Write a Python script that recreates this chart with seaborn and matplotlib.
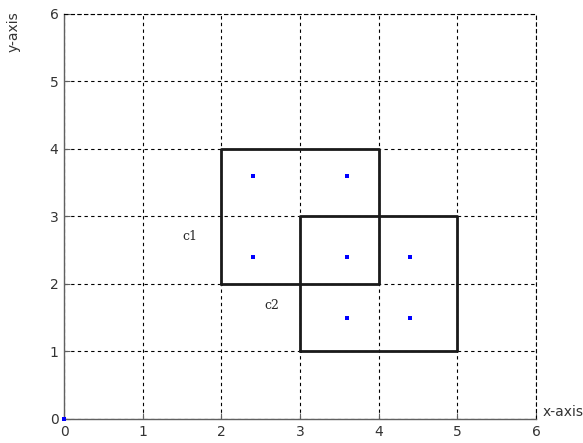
import matplotlib
matplotlib.use("Agg")
import matplotlib.pyplot as plt
import seaborn as sns
import pandas as pd

# blue sample points
pt_x = [0, 2.4, 3.6, 2.4, 3.6, 4.4, 3.6, 4.4]
pt_y = [0, 3.6, 3.6, 2.4, 2.4, 2.4, 1.5, 1.5]

# rectangles (x0, y0, x1, y1)
rect_x0 = [2, 3]
rect_y0 = [2, 1]
rect_x1 = [4, 5]
rect_y1 = [4, 3]

labels = ["c1", "c2"]
label_x = [1.5, 2.55]
label_y = [2.7, 1.68]

ticks = [0, 1, 2, 3, 4, 5, 6]

sns.set_style("white")
plt.rcParams['font.family'] = ['DejaVu Sans']

fig = plt.figure(figsize=(5.83, 4.43), dpi=100)
ax = fig.add_axes([0.1098, 0.0542, 0.8096, 0.9142])

for i in range(len(rect_x0)):
    rx = [rect_x0[i], rect_x1[i], rect_x1[i], rect_x0[i], rect_x0[i]]
    ry = [rect_y0[i], rect_y0[i], rect_y1[i], rect_y1[i], rect_y0[i]]
    df = pd.DataFrame({"x": rx, "y": ry})
    sns.lineplot(data=df, x="x", y="y", sort=False, estimator=None,
                 color="#1a1a1a", lw=2, ax=ax)

pts = pd.DataFrame({"x": pt_x, "y": pt_y})
sns.scatterplot(data=pts, x="x", y="y", marker="s", s=7, color="blue",
                edgecolor="none", ax=ax, zorder=5, clip_on=False)

for t, lx, ly in zip(labels, label_x, label_y):
    ax.text(lx, ly, t, ha="left", va="center", fontsize=9, family="DejaVu Serif")

ax.set_xlim(0, 6)
ax.set_ylim(0, 6)
ax.set_xticks(ticks)
ax.set_yticks(ticks)
ax.grid(True, ls=(0, (3, 3)), color="black", lw=0.8)
ax.set_axisbelow(True)
for s in ["top", "right"]:
    ax.spines[s].set_linestyle((0, (3, 3)))
    ax.spines[s].set_color("black")
    ax.spines[s].set_linewidth(0.8)
for s in ["left", "bottom"]:
    ax.spines[s].set_color("#606060")
    ax.spines[s].set_linewidth(1)
ax.tick_params(direction="in", length=4, color="#606060", labelsize=10,
               labelcolor="#333333", pad=4, left=True, bottom=True)
ax.set_xlabel("")
ax.set_ylabel("")
fig.text(543 / 583, 1 - 412 / 443, "x-axis", ha="left", va="center",
         fontsize=10, color="#333333")
fig.text(14 / 583, 1 - 32 / 443, "y-axis", ha="center", va="center",
         rotation=90, fontsize=10, color="#333333")

fig.savefig("out.png", dpi=100)
